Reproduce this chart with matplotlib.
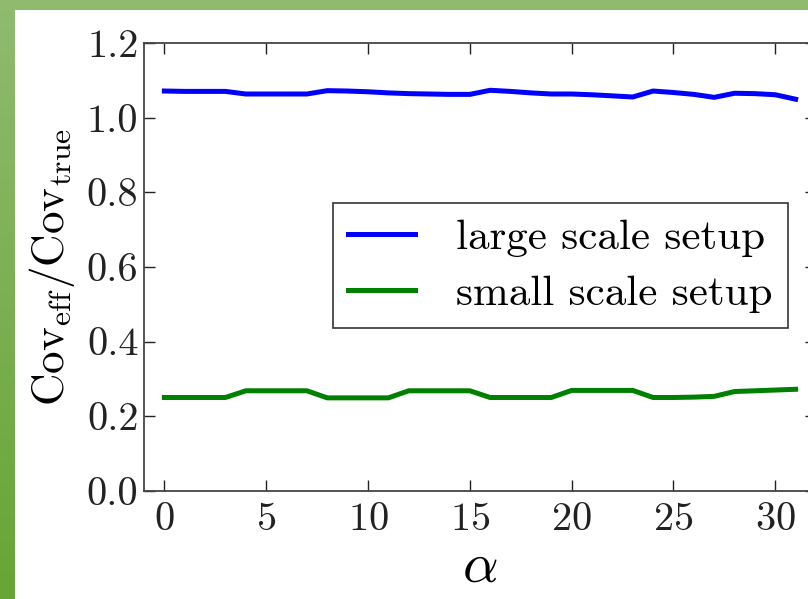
import numpy as np
import matplotlib
matplotlib.use("Agg")
import matplotlib.pyplot as plt

plt.rcParams['font.family'] = 'serif'
plt.rcParams['font.serif'] = ['cmr10', 'DejaVu Serif']
plt.rcParams['mathtext.fontset'] = 'cm'
plt.rcParams['axes.formatter.use_mathtext'] = True

# datos
alpha = np.arange(32)
large_scale = [1.072, 1.071, 1.071, 1.071, 1.064, 1.064, 1.064, 1.064,
               1.073, 1.072, 1.070, 1.067, 1.065, 1.064, 1.063, 1.063,
               1.074, 1.071, 1.067, 1.064, 1.064, 1.062, 1.059, 1.056,
               1.072, 1.068, 1.063, 1.055, 1.066, 1.065, 1.062, 1.050]
small_scale = [0.250, 0.250, 0.250, 0.250, 0.268, 0.268, 0.268, 0.268,
               0.249, 0.249, 0.249, 0.249, 0.268, 0.268, 0.268, 0.268,
               0.250, 0.250, 0.250, 0.250, 0.269, 0.269, 0.269, 0.269,
               0.250, 0.250, 0.251, 0.253, 0.266, 0.268, 0.270, 0.272]
xticks = [0, 5, 10, 15, 20, 25, 30]
yticks = [0.0, 0.2, 0.4, 0.6, 0.8, 1.0, 1.2]

W, H = 808, 599
fig = plt.figure(figsize=(W / 100, H / 100), dpi=100)

# marco verde de la diapositiva
grad = np.linspace(0, 1, 256).reshape(-1, 1)
cmap = matplotlib.colors.LinearSegmentedColormap.from_list('g', ['#90bb6f', '#67a536'])
ax_l = fig.add_axes([0, 0, 14 / W, 1])
ax_l.imshow(grad, aspect='auto', cmap=cmap)
ax_l.axis('off')
ax_t = fig.add_axes([0, 1 - 10 / H, 1, 10 / H])
ax_t.set_facecolor('#90bb6f')
ax_t.set_xticks([])
ax_t.set_yticks([])
for s in ax_t.spines.values():
    s.set_visible(False)

# ejes principales (el borde derecho queda fuera de la imagen)
left, right, top, bottom = 144, 816, 43.3, 490.7
ax = fig.add_axes([left / W, 1 - bottom / H, (right - left) / W, (bottom - top) / H])
ax.plot(alpha, large_scale, 'b-', lw=3.6, label='large scale setup')
ax.plot(alpha, small_scale, 'g-', lw=3.6, label='small scale setup')

ax.set_xlim(-1, 32)
ax.set_ylim(0, 1.2)
ax.set_xticks(xticks)
ax.set_yticks(yticks)
ax.set_yticklabels(['%.1f' % v for v in yticks])
ax.tick_params(direction='in', length=8, width=1, top=True, right=True,
               labelsize=29, colors='#222222')
ax.tick_params(axis='y', pad=4)
ax.tick_params(axis='x', pad=8)
for s in ax.spines.values():
    s.set_color('#444444')
    s.set_linewidth(1.3)

ax.set_xlabel(r'$\alpha$', fontsize=40, labelpad=4)
ax.set_ylabel(r'$\mathrm{Cov}_{\mathrm{eff}}/\mathrm{Cov}_{\mathrm{true}}$', fontsize=32.5, labelpad=7)

leg = ax.legend(loc='upper left', bbox_to_anchor=(0.281, 0.643), borderaxespad=0,
                fontsize=31, fancybox=False, edgecolor='#333333', framealpha=1,
                handlelength=1.55, handletextpad=0.95, borderpad=0.36, labelspacing=0.42)
leg.get_frame().set_linewidth(1.2)

fig.savefig('out.png', dpi=100)
